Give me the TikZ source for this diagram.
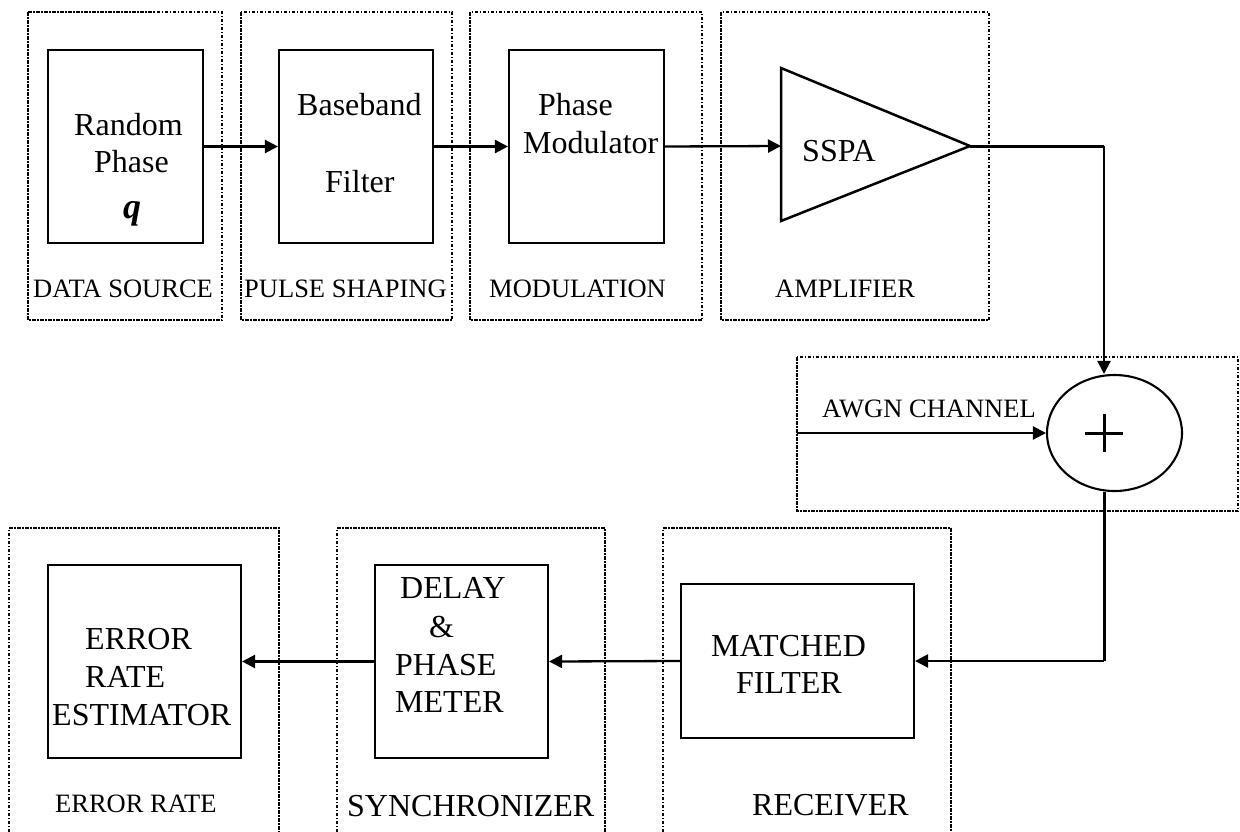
\documentclass[tikz,border=0pt]{standalone}
\usepackage{fontspec}
\setmainfont{Liberation Serif}
\usetikzlibrary{arrows.meta,shapes.geometric,calc}
\begin{document}
\begin{tikzpicture}[x=1pt,y=-1pt,
  grp/.style={draw, line width=1.6pt, dash pattern=on 3.5pt off 1.5pt on 1.5pt off 1.5pt},
  blk/.style={draw, line width=2.1pt, rectangle, inner sep=0pt},
  big/.style={font=\fontsize{32}{38}\selectfont, anchor=base west, inner sep=0pt},
  lbl/.style={font=\fontsize{26.5}{32}\selectfont, anchor=base west, inner sep=0pt},
  conn/.style={line width=2.3pt, -{Triangle[length=13pt,width=13pt]}},
  thk/.style={line width=3pt},
]
\useasboundingbox (0,0) rectangle (1240,831);

% group boxes
\draw[grp] (28,12) rectangle (222,320);
\draw[grp] (241,12) rectangle (452,320);
\draw[grp] (470,12) rectangle (702,320);
\draw[grp] (721,12) rectangle (989,320);
\draw[grp] (797,357) rectangle (1238,511);
\draw[grp] (9,840) -- (9,528) -- (279,528) -- (279,840);
\draw[grp] (337,840) -- (337,528) -- (605,528) -- (605,840);
\draw[grp] (663,840) -- (663,528) -- (951,528) -- (951,840);

% blocks
\node[blk, minimum width=155pt, minimum height=193pt] (rp) at (125.5,146.5) {};
\node[blk, minimum width=154pt, minimum height=193pt] (bb) at (356,146.5) {};
\node[blk, minimum width=155pt, minimum height=193pt] (pm) at (586.5,146.5) {};
\draw[line width=2.5pt, line join=miter] (781,68) -- (970,146) -- (781,221) -- cycle;
\coordinate (ampin) at (781,146);
\coordinate (ampout) at (970,146);
\node[draw, ellipse, line width=2.1pt, inner sep=0pt, minimum width=135pt, minimum height=116pt] (sum) at (1114.5,433) {};
\draw[line width=3pt] (1085,433) -- (1123,433) (1104,414) -- (1104,452);
\coordinate (awgnin) at (797,433);
\node[blk, minimum width=193pt, minimum height=193pt] (ere) at (144.5,661.5) {};
\node[blk, minimum width=173pt, minimum height=193pt] (dpm) at (461.5,661.5) {};
\node[blk, minimum width=233pt, minimum height=154pt] (mf) at (797.5,661) {};

% texts
\node[big] (t1) at (74,135) {Random};
\node[big] (t2) at (94,172) {Phase};
\node[big, font=\fontsize{36}{40}\selectfont\bfseries\itshape] (t3) at (123,218) {q};
\node[big] (t4) at (297,115) {Baseband};
\node[big] (t5) at (325,192) {Filter};
\node[big] (t6) at (538,115) {Phase};
\node[big] (t7) at (523,153) {Modulator};
\node[big] (t8) at (802,161) {SSPA};
\node[lbl] (l1) at (33,297) {DATA SOURCE};
\node[lbl] (l2) at (244,297) {PULSE SHAPING};
\node[lbl] (l3) at (489,297) {MODULATION};
\node[lbl] (l4) at (775,297) {AMPLIFIER};
\node[lbl] (l5) at (822,417) {AWGN CHANNEL};
\node[big] (t9) at (85,649) {ERROR};
\node[big] (t10) at (85,687) {RATE};
\node[big] (t11) at (52,725) {ESTIMATOR};
\node[big] (t12) at (400,598) {DELAY};
\node[big] (t13) at (429,637) {\&};
\node[big] (t14) at (395,675) {PHASE};
\node[big] (t15) at (395,712) {METER};
\node[big] (t16) at (711,656) {MATCHED};
\node[big] (t17) at (736,693) {FILTER};
\node[lbl] (l6) at (55,812) {ERROR RATE};
\node[big] (l7) at (347,816) {SYNCHRONIZER};
\node[big] (l8) at (752,815) {RECEIVER};

% connectors
\draw[conn] (rp.east) -- (bb.west);
\draw[conn] (bb.east) -- (pm.west);
\draw[conn] (pm.east) -- (ampin);
\draw[thk] (ampout) -- (1104,146) coordinate (c1);
\draw[conn] (c1) -- (c1 |- sum.north);
\draw[conn] (awgnin) -- (sum.west);
\draw[thk] (c1 |- sum.south) -- (c1 |- mf.east) coordinate (c2);
\draw[conn] (c2) -- (mf.east);
\draw[conn] (mf.west) -- (dpm.east);
\draw[conn] (dpm.west) -- (ere.east);
\end{tikzpicture}
\end{document}
